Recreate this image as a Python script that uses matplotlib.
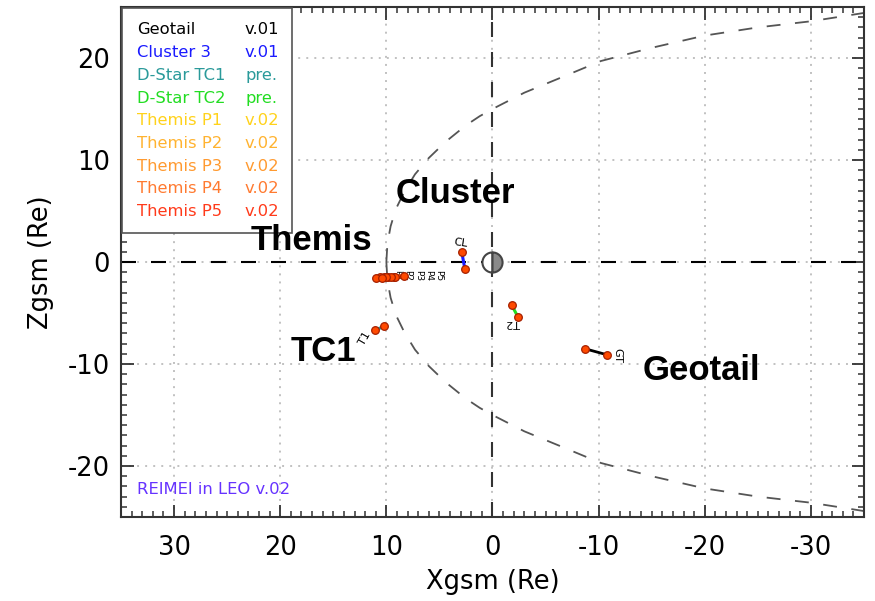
import matplotlib
matplotlib.use('Agg')
import matplotlib.pyplot as plt
from matplotlib.patches import Rectangle
from matplotlib.ticker import MultipleLocator

plt.rcParams['font.family'] = ['DejaVu Sans']
plt.rcParams['lines.scale_dashes'] = False
plt.rcParams['axes.unicode_minus'] = False

# magnetopause boundary, upper branch (lower branch mirrored)
mp_x = [10.0, 9.9, 9.6, 9.1, 8.3, 7.3, 6.0, 4.4, 2.5, 1.2, 0.0, -3.0, -6.5, -10.2,
        -15.0, -20.0, -25.0, -30.0, -35.5]
mp_z = [0.0, 1.8, 3.5, 5.2, 6.9, 8.6, 10.2, 11.8, 13.4, 14.3, 15.0, 16.6, 18.1, 19.7,
        21.0, 22.2, 23.0, 23.6, 24.5]

# spacecraft positions (start, end) in GSM, Re
geotail_x = [-8.7, -10.8]
geotail_z = [-8.5, -9.1]
cluster_x = [2.9, 2.6]
cluster_z = [1.0, -0.7]
tc1_x = [11.1, 10.2]
tc1_z = [-6.7, -6.3]
tc2_x = [-1.8, -2.4]
tc2_z = [-4.2, -5.4]
themis_x = [[9.3, 8.3], [9.8, 9.2], [10.2, 9.6], [10.6, 10.0], [11.0, 10.4]]
themis_z = [[-1.45, -1.4], [-1.5, -1.45], [-1.5, -1.5], [-1.5, -1.5], [-1.55, -1.55]]

legend_names = ['Geotail', 'Cluster 3', 'D-Star TC1', 'D-Star TC2', 'Themis P1',
                'Themis P2', 'Themis P3', 'Themis P4', 'Themis P5']
legend_vers = ['v.01', 'v.01', 'pre.', 'pre.', 'v.02', 'v.02', 'v.02', 'v.02', 'v.02']
legend_colors = ['#000000', '#1a1aff', '#2a9a9a', '#22dd22', '#ffd21a',
                 '#ffb330', '#ff9a30', '#ff7a30', '#ff3a1a']

fig = plt.figure(figsize=(8.75, 6.01), dpi=100)
ax = fig.add_axes([121/875, 1-517/601, 743/875, 510/601])
ax.set_xlim(35, -35)
ax.set_ylim(-25, 25)

ax.grid(which='major', color='#b0b0b0', linestyle=(0, (1.4, 4.4)), lw=1.1)
ax.axhline(0, color='black', lw=1.5, linestyle=(0, (10.8, 10.8)), zorder=2)
ax.axvline(0, color='#333333', lw=1.5, linestyle=(0, (10.8, 10.8)), zorder=2)

ax.plot(mp_x, mp_z, color='#555555', lw=1.3, linestyle=(0, (10, 10.5)), zorder=2)
ax.plot(mp_x, [-z for z in mp_z], color='#555555', lw=1.3, linestyle=(0, (10, 10.5)), zorder=2)

mk = dict(marker='o', ms=5.5, mfc='#ff4a00', mec='#a52000', mew=0.9, zorder=4)
ax.plot(geotail_x, geotail_z, color='black', lw=2, **mk)
ax.plot(cluster_x, cluster_z, color='#1a1aff', lw=2.2, **mk)
ax.plot(tc1_x, tc1_z, color='#2a9a9a', lw=2.2, **mk)
ax.plot(tc2_x, tc2_z, color='#22dd22', lw=2.2, **mk)
for xs, zs in zip(themis_x, themis_z):
    ax.plot(xs, zs, color='#ff5a10', lw=3, **mk)

# Earth: sunward (left on screen) half white, night side grey
ax.plot([0], [0], marker='o', ms=14.5, fillstyle='left', mfc='white',
        markerfacecoloralt='#8a8a8a', mec='#444444', mew=1.5, zorder=6, ls='none')

# small satellite tags
ax.text(2.97, 1.86, 'CL', fontsize=8, ha='center', va='center', rotation=-8)
ax.text(-1.93, -5.98, 'T2', fontsize=8, ha='center', va='center', rotation=180)
ax.text(12.0, -7.55, 'T1', fontsize=8, ha='center', va='center', rotation=60)
ax.text(-11.73, -9.12, 'GT', fontsize=8, ha='center', va='center', rotation=-90)
for i, lab in enumerate(['P1', 'P2', 'P3', 'P4', 'P5']):
    ax.text(8.9 - 0.95 * i, -1.3, lab, fontsize=6.5, ha='center', va='center',
            rotation=-90)

# big labels
big = dict(fontsize=25, fontweight='bold', family='Liberation Sans', ha='center',
           va='center', zorder=7)
ax.text(3.53, 6.76, 'Cluster', **big)
ax.text(17.1, 2.06, 'Themis', **big)
ax.text(15.97, -8.82, 'TC1', **big)
ax.text(-19.64, -10.59, 'Geotail', **big)

# legend box
ax.add_patch(Rectangle((0.001, 0.557), 0.229, 0.441, transform=ax.transAxes,
                       facecolor='white', edgecolor='#555555', lw=1.2, zorder=5))
for i, (n, v, c) in enumerate(zip(legend_names, legend_vers, legend_colors)):
    py = 30 + 22.7 * i
    y = 1 - (py - 7) / 510
    ax.text(0.0215, y, n, color=c, fontsize=11.8, transform=ax.transAxes,
            va='center', ha='left', zorder=6)
    ax.text(0.1669, y, v, color=c, fontsize=11.8, transform=ax.transAxes,
            va='center', ha='left', zorder=6)

ax.text(0.0215, 1 - (490 - 7) / 510, 'REIMEI in LEO v.02', color='#6633ff', fontsize=11.8,
        transform=ax.transAxes, va='center', ha='left')

ax.xaxis.set_major_locator(MultipleLocator(10))
ax.xaxis.set_minor_locator(MultipleLocator(1))
ax.yaxis.set_major_locator(MultipleLocator(10))
ax.yaxis.set_minor_locator(MultipleLocator(1))
ax.tick_params(which='both', direction='in', top=True, right=True, color='#333333')
ax.tick_params(which='major', length=9, width=1.3, labelsize=18.5)
ax.tick_params(which='minor', length=4.5, width=1.1)
ax.tick_params(axis='x', which='major', pad=13)
ax.tick_params(axis='y', which='major', pad=8)
for s in ax.spines.values():
    s.set_color('#333333')
    s.set_linewidth(1.5)

ax.set_xlabel('Xgsm (Re)', fontsize=18.5, labelpad=6)
ax.set_ylabel('Zgsm (Re)', fontsize=18.5, labelpad=10)

fig.savefig('out.png', dpi=100)
